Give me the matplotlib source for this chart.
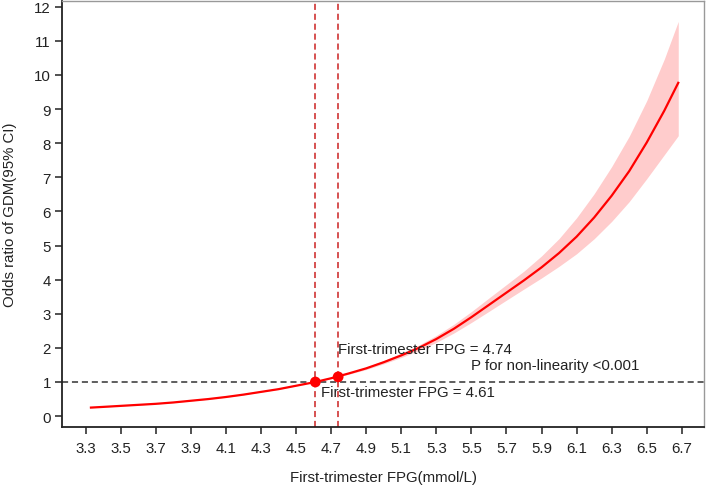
import matplotlib
matplotlib.use("Agg")
import matplotlib.pyplot as plt

plt.rcParams['font.family'] = ['Liberation Sans', 'DejaVu Sans']

# Data
fpg = [3.33, 3.4, 3.5, 3.6, 3.7, 3.8, 3.9, 4.0, 4.1, 4.2, 4.3, 4.4, 4.5, 4.61,
       4.7, 4.8, 4.9, 5.0, 5.1, 5.2, 5.3, 5.4, 5.5, 5.6, 5.7, 5.8, 5.9, 6.0,
       6.1, 6.2, 6.3, 6.4, 6.5, 6.6, 6.68]
odds = [0.25, 0.27, 0.30, 0.33, 0.36, 0.40, 0.45, 0.50, 0.56, 0.63, 0.71, 0.79, 0.89, 1.00,
        1.11, 1.25, 1.40, 1.58, 1.78, 2.00, 2.26, 2.56, 2.90, 3.26, 3.62, 3.98, 4.36, 4.78,
        5.26, 5.82, 6.46, 7.18, 8.02, 8.95, 9.77]
lower = [0.245, 0.265, 0.295, 0.325, 0.355, 0.395, 0.445, 0.495, 0.555, 0.625, 0.705, 0.786, 0.887, 1.00,
         1.10, 1.225, 1.365, 1.533, 1.719, 1.922, 2.161, 2.435, 2.745, 3.070, 3.399, 3.726, 4.049, 4.390,
         4.759, 5.198, 5.707, 6.286, 6.958, 7.658, 8.22]
upper = [0.255, 0.275, 0.305, 0.335, 0.365, 0.405, 0.455, 0.505, 0.565, 0.635, 0.715, 0.794, 0.893, 1.00,
         1.12, 1.275, 1.435, 1.628, 1.843, 2.082, 2.364, 2.691, 3.064, 3.462, 3.855, 4.251, 4.695, 5.204,
         5.813, 6.516, 7.313, 8.201, 9.244, 10.461, 11.57]

cut_points = [4.61, 4.74]
cut_odds = [1.0, 1.15]
x_ticks = [3.3, 3.5, 3.7, 3.9, 4.1, 4.3, 4.5, 4.7, 4.9, 5.1, 5.3, 5.5, 5.7, 5.9, 6.1, 6.3, 6.5, 6.7]
y_ticks = list(range(0, 13))

FS = 10.8

fig = plt.figure(figsize=(7.08, 4.89), dpi=100)
ax = fig.add_axes([0.0876, 0.1247, 0.9944 - 0.0876, 0.996 - 0.1247])

ax.fill_between(fpg, lower, upper, color='#FFCCCC', linewidth=0, zorder=1)
ax.plot(fpg, odds, color='#FF0000', linewidth=1.6, zorder=3, solid_joinstyle='round')

ax.axhline(1, color='#333333', linewidth=1.1, dashes=(4, 2.5), zorder=2)
for cp in cut_points:
    ax.axvline(cp, color='#CC2222', linewidth=1.1, dashes=(4, 2.5), zorder=2)

ax.scatter(cut_points, cut_odds, s=60, color='#FF0000', zorder=4, edgecolors='none')

ax.text(4.74, 1.97, 'First-trimester FPG = 4.74', fontsize=FS, color='#222222',
        ha='left', va='center', zorder=5)
ax.text(5.50, 1.50, 'P for non-linearity <0.001', fontsize=FS, color='#222222',
        ha='left', va='center', zorder=5)
ax.text(4.64, 0.70, 'First-trimester FPG = 4.61', fontsize=FS, color='#222222',
        ha='left', va='center', zorder=5)

ax.set_xlim(3.165, 6.827)
ax.set_ylim(-0.32, 12.17)
ax.set_xticks(x_ticks)
ax.set_xticklabels([f'{v:.1f}' for v in x_ticks])
ax.set_yticks(y_ticks)
ax.set_yticklabels([str(v) for v in y_ticks])
ax.tick_params(axis='both', labelsize=FS, length=5, width=1.1, colors='#222222')
ax.tick_params(axis='y', pad=3)
ax.tick_params(axis='x', pad=5)

ax.set_xlabel('First-trimester FPG(mmol/L)', fontsize=FS, color='#222222', labelpad=11)
ax.set_ylabel('Odds ratio of GDM(95% CI)', fontsize=FS, color='#222222', labelpad=12)

for side in ['left', 'bottom']:
    ax.spines[side].set_color('#222222')
    ax.spines[side].set_linewidth(1.3)
for side in ['top', 'right']:
    ax.spines[side].set_color('#999999')
    ax.spines[side].set_linewidth(1.0)

fig.savefig('out.png', dpi=100)
